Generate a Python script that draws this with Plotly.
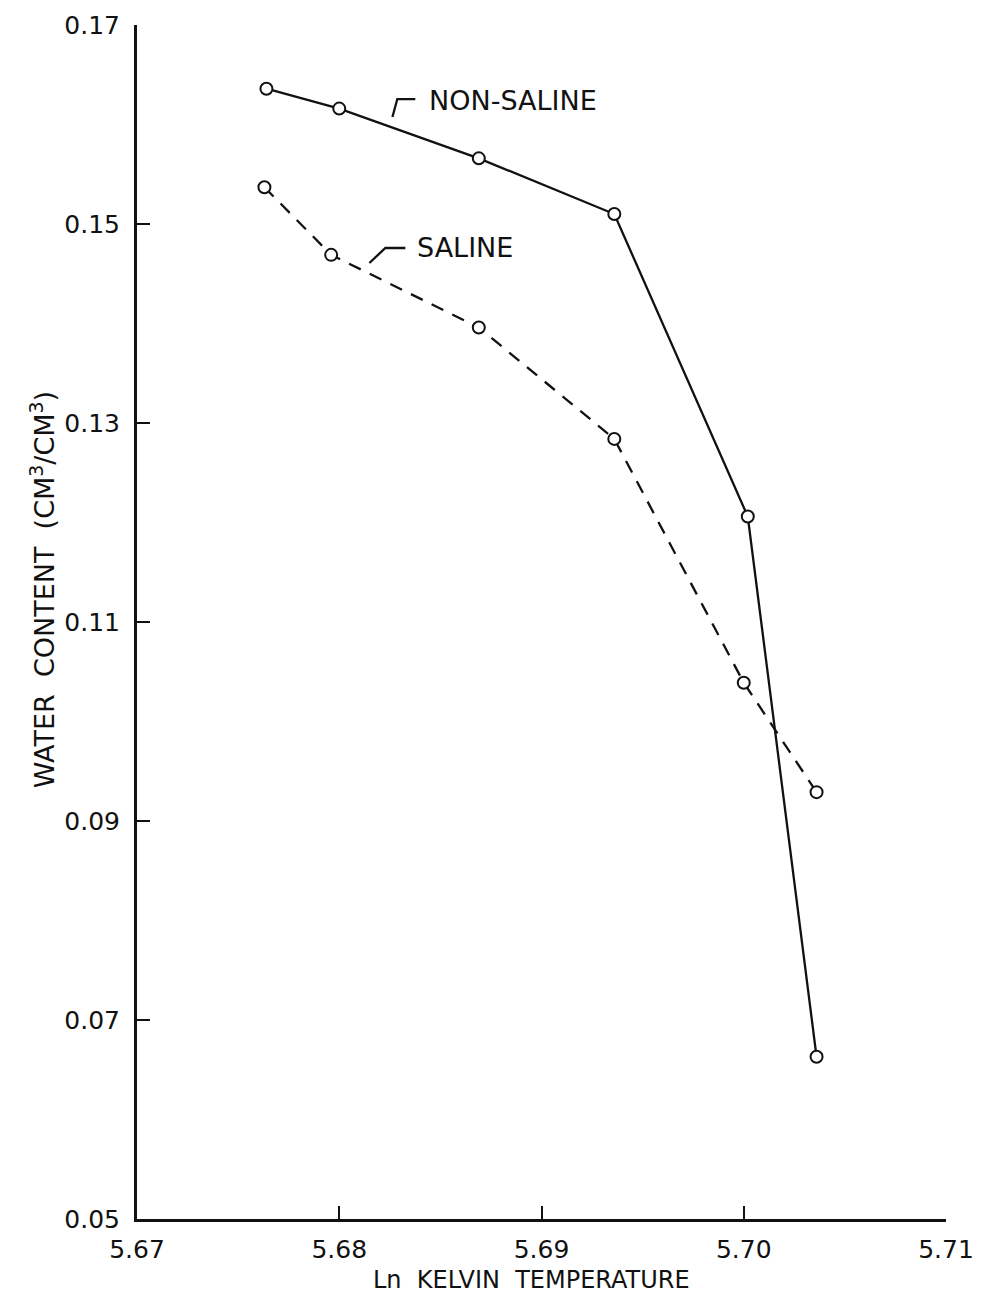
import plotly.graph_objects as go

# Data
nonsaline_x = [5.6764, 5.6800, 5.6869, 5.6936, 5.7002, 5.7036]
nonsaline_y = [0.1636, 0.1616, 0.1566, 0.1510, 0.1206, 0.0663]
saline_x = [5.6763, 5.6796, 5.6869, 5.6936, 5.7000, 5.7036]
saline_y = [0.1537, 0.1469, 0.1396, 0.1284, 0.1039, 0.0929]

x_ticks = [5.67, 5.68, 5.69, 5.70, 5.71]
x_tick_labels = ["5.67", "5.68", "5.69", "5.70", "5.71"]
y_ticks = [0.05, 0.07, 0.09, 0.11, 0.13, 0.15, 0.17]
y_tick_labels = ["0.05", "0.07", "0.09", "0.11", "0.13", "0.15", "0.17"]

# Series labels with leader brackets (data coordinates)
label_texts = ["NON-SALINE", "SALINE"]
label_x = [5.68435, 5.68376]
label_y = [0.16246, 0.14759]
bracket_x = [[5.68263, 5.68287, 5.68376], [5.68149, 5.68228, 5.68327]]
bracket_y = [[0.16075, 0.16256, 0.16256], [0.14608, 0.14759, 0.14759]]

FONT = "DejaVu Sans"
INK = "#111111"

fig = go.Figure()
fig.add_trace(go.Scatter(
    x=nonsaline_x, y=nonsaline_y, mode="lines+markers", name="NON-SALINE",
    line=dict(color=INK, width=2.3),
    marker=dict(symbol="circle", size=12, color="white", line=dict(color=INK, width=2)),
))
fig.add_trace(go.Scatter(
    x=saline_x, y=saline_y, mode="lines+markers", name="SALINE",
    line=dict(color=INK, width=2.3, dash="13px,10px"),
    marker=dict(symbol="circle", size=12, color="white", line=dict(color=INK, width=2)),
))

for bx, by, txt, tx, ty in zip(bracket_x, bracket_y, label_texts, label_x, label_y):
    fig.add_trace(go.Scatter(
        x=bx, y=by, mode="lines", line=dict(color=INK, width=2.3),
        showlegend=False, hoverinfo="skip",
    ))
    fig.add_annotation(x=tx, y=ty, text=txt, showarrow=False,
                       xanchor="left", yanchor="middle",
                       font=dict(family=FONT, size=27, color=INK))

# Axis titles as annotations for exact placement
fig.add_annotation(xref="paper", x=0, xshift=-95, y=0.1132, yref="y",
                   text="WATER  CONTENT  (CM<sup>3</sup>/CM<sup>3</sup>)",
                   textangle=-90, showarrow=False, xanchor="center", yanchor="middle",
                   font=dict(family=FONT, size=27, color=INK))
fig.add_annotation(x=5.68953, xref="x", yref="paper", y=0, yshift=-61,
                   text="Ln  KELVIN  TEMPERATURE", showarrow=False,
                   xanchor="center", yanchor="middle",
                   font=dict(family=FONT, size=24, color=INK))

fig.update_layout(
    width=973, height=1288,
    margin=dict(l=129, r=35, t=17, b=77),
    paper_bgcolor="white", plot_bgcolor="white",
    showlegend=False,
    font=dict(family=FONT, color=INK),
)
fig.update_xaxes(
    range=[5.67, 5.71], tickvals=x_ticks, ticktext=x_tick_labels, automargin=False,
    showgrid=False, zeroline=False, showline=True, linecolor=INK, linewidth=3,
    ticks="inside", ticklen=13, tickwidth=2, tickcolor=INK,
    tickfont=dict(family=FONT, size=25, color=INK), ticklabelstandoff=6,
)
fig.update_yaxes(
    range=[0.05, 0.17], tickvals=y_ticks, ticktext=y_tick_labels, automargin=False,
    showgrid=False, zeroline=False, showline=True, linecolor=INK, linewidth=3,
    ticks="inside", ticklen=13, tickwidth=2, tickcolor=INK,
    tickfont=dict(family=FONT, size=25, color=INK), ticklabelstandoff=9,
)

fig.write_html("out.html")
